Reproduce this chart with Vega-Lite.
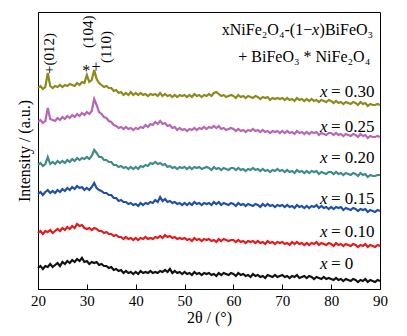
{
"$schema":"https://vega.github.io/schema/vega-lite/v6.json",
"width":342,"height":277,
"autosize":{"type":"none"},
"padding":{"left":38,"top":12,"right":27,"bottom":47},
"background":"white",
"config":{"view":{"stroke":"#000","strokeWidth":1},"font":"Liberation Serif","text":{"font":"Liberation Serif","color":"#000"}},
"datasets":{
"xrd":[
{"s":"0","t":20,"i":21},{"s":"0","t":20.5,"i":23},{"s":"0","t":21,"i":20},{"s":"0","t":21.5,"i":23},{"s":"0","t":22,"i":22},{"s":"0","t":22.5,"i":25},{"s":"0","t":23,"i":22},{"s":"0","t":23.5,"i":24},{"s":"0","t":24,"i":26},{"s":"0","t":24.5,"i":23},
{"s":"0","t":25,"i":27},{"s":"0","t":25.5,"i":25},{"s":"0","t":26,"i":28},{"s":"0","t":26.5,"i":26},{"s":"0","t":27,"i":29},{"s":"0","t":27.5,"i":27},{"s":"0","t":28,"i":30},{"s":"0","t":28.5,"i":28},{"s":"0","t":29,"i":31},{"s":"0","t":29.5,"i":27},
{"s":"0","t":30,"i":28},{"s":"0","t":30.5,"i":25},{"s":"0","t":31,"i":27},{"s":"0","t":31.5,"i":26},{"s":"0","t":32,"i":27},{"s":"0","t":32.5,"i":24},{"s":"0","t":33,"i":25},{"s":"0","t":33.5,"i":23},{"s":"0","t":34,"i":23},{"s":"0","t":34.5,"i":21},
{"s":"0","t":35,"i":22},{"s":"0","t":35.5,"i":19},{"s":"0","t":36,"i":20},{"s":"0","t":36.5,"i":18},{"s":"0","t":37,"i":19},{"s":"0","t":37.5,"i":16},{"s":"0","t":38,"i":18},{"s":"0","t":38.5,"i":16},{"s":"0","t":39,"i":17},{"s":"0","t":39.5,"i":15},
{"s":"0","t":40,"i":17},{"s":"0","t":40.5,"i":15},{"s":"0","t":41,"i":18},{"s":"0","t":41.5,"i":16},{"s":"0","t":42,"i":17},{"s":"0","t":42.5,"i":16},{"s":"0","t":43,"i":18},{"s":"0","t":43.5,"i":16},{"s":"0","t":44,"i":17},{"s":"0","t":44.5,"i":16},
{"s":"0","t":45,"i":18},{"s":"0","t":45.5,"i":17},{"s":"0","t":46,"i":19},{"s":"0","t":46.5,"i":17},{"s":"0","t":47,"i":20},{"s":"0","t":47.5,"i":16},{"s":"0","t":48,"i":18},{"s":"0","t":48.5,"i":16},{"s":"0","t":49,"i":17},{"s":"0","t":49.5,"i":15},
{"s":"0","t":50,"i":17},{"s":"0","t":50.5,"i":15},{"s":"0","t":51,"i":16},{"s":"0","t":51.5,"i":14},{"s":"0","t":52,"i":17},{"s":"0","t":52.5,"i":15},{"s":"0","t":53,"i":16},{"s":"0","t":53.5,"i":14},{"s":"0","t":54,"i":16},{"s":"0","t":54.5,"i":15},
{"s":"0","t":55,"i":16},{"s":"0","t":55.5,"i":14},{"s":"0","t":56,"i":15},{"s":"0","t":56.5,"i":13},{"s":"0","t":57,"i":16},{"s":"0","t":57.5,"i":14},{"s":"0","t":58,"i":16},{"s":"0","t":58.5,"i":15},{"s":"0","t":59,"i":14},{"s":"0","t":59.5,"i":16},
{"s":"0","t":60,"i":15},{"s":"0","t":60.5,"i":13},{"s":"0","t":61,"i":16},{"s":"0","t":61.5,"i":14},{"s":"0","t":62,"i":15},{"s":"0","t":62.5,"i":13},{"s":"0","t":63,"i":14},{"s":"0","t":63.5,"i":12},{"s":"0","t":64,"i":15},{"s":"0","t":64.5,"i":13},
{"s":"0","t":65,"i":14},{"s":"0","t":65.5,"i":12},{"s":"0","t":66,"i":13},{"s":"0","t":66.5,"i":11},{"s":"0","t":67,"i":14},{"s":"0","t":67.5,"i":13},{"s":"0","t":68,"i":12},{"s":"0","t":68.5,"i":14},{"s":"0","t":69,"i":12},{"s":"0","t":69.5,"i":13},
{"s":"0","t":70,"i":14},{"s":"0","t":70.5,"i":12},{"s":"0","t":71,"i":13},{"s":"0","t":71.5,"i":11},{"s":"0","t":72,"i":13},{"s":"0","t":72.5,"i":12},{"s":"0","t":73,"i":14},{"s":"0","t":73.5,"i":11},{"s":"0","t":74,"i":12},{"s":"0","t":74.5,"i":13},
{"s":"0","t":75,"i":11},{"s":"0","t":75.5,"i":13},{"s":"0","t":76,"i":12},{"s":"0","t":76.5,"i":10},{"s":"0","t":77,"i":12},{"s":"0","t":77.5,"i":11},{"s":"0","t":78,"i":10},{"s":"0","t":78.5,"i":12},{"s":"0","t":79,"i":10},{"s":"0","t":79.5,"i":11},
{"s":"0","t":80,"i":10},{"s":"0","t":80.5,"i":9},{"s":"0","t":81,"i":11},{"s":"0","t":81.5,"i":9},{"s":"0","t":82,"i":10},{"s":"0","t":82.5,"i":8},{"s":"0","t":83,"i":10},{"s":"0","t":83.5,"i":9},{"s":"0","t":84,"i":8},{"s":"0","t":84.5,"i":10},
{"s":"0","t":85,"i":9},{"s":"0","t":85.5,"i":7},{"s":"0","t":86,"i":9},{"s":"0","t":86.5,"i":8},{"s":"0","t":87,"i":10},{"s":"0","t":87.5,"i":7},{"s":"0","t":88,"i":9},{"s":"0","t":88.5,"i":8},{"s":"0","t":89,"i":7},{"s":"0","t":89.5,"i":9},
{"s":"0","t":90,"i":8},
{"s":"0.10","t":20,"i":56},{"s":"0.10","t":20.5,"i":58},{"s":"0.10","t":21,"i":55},{"s":"0.10","t":21.5,"i":58},{"s":"0.10","t":22,"i":57},{"s":"0.10","t":22.5,"i":59},{"s":"0.10","t":23,"i":56},{"s":"0.10","t":23.5,"i":58},{"s":"0.10","t":24,"i":60},{"s":"0.10","t":24.5,"i":58},
{"s":"0.10","t":25,"i":61},{"s":"0.10","t":25.5,"i":59},{"s":"0.10","t":26,"i":62},{"s":"0.10","t":26.5,"i":60},{"s":"0.10","t":27,"i":63},{"s":"0.10","t":27.5,"i":61},{"s":"0.10","t":28,"i":65},{"s":"0.10","t":28.5,"i":63},{"s":"0.10","t":29,"i":64},{"s":"0.10","t":29.5,"i":61},
{"s":"0.10","t":30,"i":60},{"s":"0.10","t":30.5,"i":61},{"s":"0.10","t":31,"i":59},{"s":"0.10","t":31.5,"i":61},{"s":"0.10","t":32,"i":60},{"s":"0.10","t":32.5,"i":58},{"s":"0.10","t":33,"i":58},{"s":"0.10","t":33.5,"i":56},{"s":"0.10","t":34,"i":57},{"s":"0.10","t":34.5,"i":55},
{"s":"0.10","t":35,"i":55},{"s":"0.10","t":35.5,"i":53},{"s":"0.10","t":36,"i":54},{"s":"0.10","t":36.5,"i":52},{"s":"0.10","t":37,"i":52},{"s":"0.10","t":37.5,"i":50},{"s":"0.10","t":38,"i":52},{"s":"0.10","t":38.5,"i":50},{"s":"0.10","t":39,"i":51},{"s":"0.10","t":39.5,"i":49},
{"s":"0.10","t":40,"i":51},{"s":"0.10","t":40.5,"i":49},{"s":"0.10","t":41,"i":51},{"s":"0.10","t":41.5,"i":50},{"s":"0.10","t":42,"i":52},{"s":"0.10","t":42.5,"i":50},{"s":"0.10","t":43,"i":51},{"s":"0.10","t":43.5,"i":50},{"s":"0.10","t":44,"i":52},{"s":"0.10","t":44.5,"i":51},
{"s":"0.10","t":45,"i":53},{"s":"0.10","t":45.5,"i":51},{"s":"0.10","t":46,"i":54},{"s":"0.10","t":46.5,"i":52},{"s":"0.10","t":47,"i":53},{"s":"0.10","t":47.5,"i":51},{"s":"0.10","t":48,"i":52},{"s":"0.10","t":48.5,"i":50},{"s":"0.10","t":49,"i":51},{"s":"0.10","t":49.5,"i":50},
{"s":"0.10","t":50,"i":51},{"s":"0.10","t":50.5,"i":49},{"s":"0.10","t":51,"i":50},{"s":"0.10","t":51.5,"i":48},{"s":"0.10","t":52,"i":51},{"s":"0.10","t":52.5,"i":49},{"s":"0.10","t":53,"i":50},{"s":"0.10","t":53.5,"i":48},{"s":"0.10","t":54,"i":50},{"s":"0.10","t":54.5,"i":49},
{"s":"0.10","t":55,"i":50},{"s":"0.10","t":55.5,"i":48},{"s":"0.10","t":56,"i":49},{"s":"0.10","t":56.5,"i":47},{"s":"0.10","t":57,"i":50},{"s":"0.10","t":57.5,"i":48},{"s":"0.10","t":58,"i":50},{"s":"0.10","t":58.5,"i":49},{"s":"0.10","t":59,"i":48},{"s":"0.10","t":59.5,"i":49},
{"s":"0.10","t":60,"i":49},{"s":"0.10","t":60.5,"i":47},{"s":"0.10","t":61,"i":49},{"s":"0.10","t":61.5,"i":47},{"s":"0.10","t":62,"i":48},{"s":"0.10","t":62.5,"i":46},{"s":"0.10","t":63,"i":48},{"s":"0.10","t":63.5,"i":47},{"s":"0.10","t":64,"i":48},{"s":"0.10","t":64.5,"i":46},
{"s":"0.10","t":65,"i":48},{"s":"0.10","t":65.5,"i":46},{"s":"0.10","t":66,"i":47},{"s":"0.10","t":66.5,"i":45},{"s":"0.10","t":67,"i":48},{"s":"0.10","t":67.5,"i":46},{"s":"0.10","t":68,"i":47},{"s":"0.10","t":68.5,"i":45},{"s":"0.10","t":69,"i":47},{"s":"0.10","t":69.5,"i":46},
{"s":"0.10","t":70,"i":47},{"s":"0.10","t":70.5,"i":45},{"s":"0.10","t":71,"i":46},{"s":"0.10","t":71.5,"i":44},{"s":"0.10","t":72,"i":47},{"s":"0.10","t":72.5,"i":45},{"s":"0.10","t":73,"i":47},{"s":"0.10","t":73.5,"i":45},{"s":"0.10","t":74,"i":46},{"s":"0.10","t":74.5,"i":44},
{"s":"0.10","t":75,"i":46},{"s":"0.10","t":75.5,"i":44},{"s":"0.10","t":76,"i":46},{"s":"0.10","t":76.5,"i":45},{"s":"0.10","t":77,"i":47},{"s":"0.10","t":77.5,"i":44},{"s":"0.10","t":78,"i":46},{"s":"0.10","t":78.5,"i":45},{"s":"0.10","t":79,"i":44},{"s":"0.10","t":79.5,"i":46},
{"s":"0.10","t":80,"i":45},{"s":"0.10","t":80.5,"i":43},{"s":"0.10","t":81,"i":46},{"s":"0.10","t":81.5,"i":44},{"s":"0.10","t":82,"i":45},{"s":"0.10","t":82.5,"i":43},{"s":"0.10","t":83,"i":45},{"s":"0.10","t":83.5,"i":44},{"s":"0.10","t":84,"i":43},{"s":"0.10","t":84.5,"i":45},
{"s":"0.10","t":85,"i":44},{"s":"0.10","t":85.5,"i":42},{"s":"0.10","t":86,"i":44},{"s":"0.10","t":86.5,"i":43},{"s":"0.10","t":87,"i":45},{"s":"0.10","t":87.5,"i":42},{"s":"0.10","t":88,"i":44},{"s":"0.10","t":88.5,"i":43},{"s":"0.10","t":89,"i":42},{"s":"0.10","t":89.5,"i":44},
{"s":"0.10","t":90,"i":43},
{"s":"0.15","t":20,"i":95},{"s":"0.15","t":20.5,"i":97},{"s":"0.15","t":21,"i":94},{"s":"0.15","t":21.5,"i":97},{"s":"0.15","t":22,"i":99},{"s":"0.15","t":22.5,"i":96},{"s":"0.15","t":23,"i":98},{"s":"0.15","t":23.5,"i":96},{"s":"0.15","t":24,"i":99},{"s":"0.15","t":24.5,"i":97},
{"s":"0.15","t":25,"i":100},{"s":"0.15","t":25.5,"i":98},{"s":"0.15","t":26,"i":101},{"s":"0.15","t":26.5,"i":99},{"s":"0.15","t":27,"i":102},{"s":"0.15","t":27.5,"i":100},{"s":"0.15","t":28,"i":103},{"s":"0.15","t":28.5,"i":101},{"s":"0.15","t":29,"i":102},{"s":"0.15","t":29.5,"i":99},
{"s":"0.15","t":30,"i":101},{"s":"0.15","t":30.5,"i":99},{"s":"0.15","t":31,"i":102},{"s":"0.15","t":31.5,"i":106},{"s":"0.15","t":32,"i":101},{"s":"0.15","t":32.5,"i":99},{"s":"0.15","t":33,"i":98},{"s":"0.15","t":33.5,"i":96},{"s":"0.15","t":34,"i":96},{"s":"0.15","t":34.5,"i":94},
{"s":"0.15","t":35,"i":94},{"s":"0.15","t":35.5,"i":91},{"s":"0.15","t":36,"i":91},{"s":"0.15","t":36.5,"i":88},{"s":"0.15","t":37,"i":89},{"s":"0.15","t":37.5,"i":87},{"s":"0.15","t":38,"i":87},{"s":"0.15","t":38.5,"i":85},{"s":"0.15","t":39,"i":86},{"s":"0.15","t":39.5,"i":84},
{"s":"0.15","t":40,"i":85},{"s":"0.15","t":40.5,"i":83},{"s":"0.15","t":41,"i":86},{"s":"0.15","t":41.5,"i":84},{"s":"0.15","t":42,"i":86},{"s":"0.15","t":42.5,"i":85},{"s":"0.15","t":43,"i":87},{"s":"0.15","t":43.5,"i":86},{"s":"0.15","t":44,"i":89},{"s":"0.15","t":44.5,"i":87},
{"s":"0.15","t":45,"i":92},{"s":"0.15","t":45.5,"i":88},{"s":"0.15","t":46,"i":90},{"s":"0.15","t":46.5,"i":87},{"s":"0.15","t":47,"i":88},{"s":"0.15","t":47.5,"i":86},{"s":"0.15","t":48,"i":87},{"s":"0.15","t":48.5,"i":85},{"s":"0.15","t":49,"i":86},{"s":"0.15","t":49.5,"i":84},
{"s":"0.15","t":50,"i":86},{"s":"0.15","t":50.5,"i":84},{"s":"0.15","t":51,"i":86},{"s":"0.15","t":51.5,"i":84},{"s":"0.15","t":52,"i":87},{"s":"0.15","t":52.5,"i":85},{"s":"0.15","t":53,"i":86},{"s":"0.15","t":53.5,"i":84},{"s":"0.15","t":54,"i":86},{"s":"0.15","t":54.5,"i":85},
{"s":"0.15","t":55,"i":86},{"s":"0.15","t":55.5,"i":84},{"s":"0.15","t":56,"i":87},{"s":"0.15","t":56.5,"i":85},{"s":"0.15","t":57,"i":87},{"s":"0.15","t":57.5,"i":84},{"s":"0.15","t":58,"i":86},{"s":"0.15","t":58.5,"i":85},{"s":"0.15","t":59,"i":84},{"s":"0.15","t":59.5,"i":86},
{"s":"0.15","t":60,"i":85},{"s":"0.15","t":60.5,"i":83},{"s":"0.15","t":61,"i":86},{"s":"0.15","t":61.5,"i":84},{"s":"0.15","t":62,"i":85},{"s":"0.15","t":62.5,"i":83},{"s":"0.15","t":63,"i":85},{"s":"0.15","t":63.5,"i":84},{"s":"0.15","t":64,"i":83},{"s":"0.15","t":64.5,"i":85},
{"s":"0.15","t":65,"i":84},{"s":"0.15","t":65.5,"i":82},{"s":"0.15","t":66,"i":85},{"s":"0.15","t":66.5,"i":83},{"s":"0.15","t":67,"i":85},{"s":"0.15","t":67.5,"i":83},{"s":"0.15","t":68,"i":84},{"s":"0.15","t":68.5,"i":82},{"s":"0.15","t":69,"i":84},{"s":"0.15","t":69.5,"i":83},
{"s":"0.15","t":70,"i":84},{"s":"0.15","t":70.5,"i":82},{"s":"0.15","t":71,"i":84},{"s":"0.15","t":71.5,"i":82},{"s":"0.15","t":72,"i":83},{"s":"0.15","t":72.5,"i":81},{"s":"0.15","t":73,"i":84},{"s":"0.15","t":73.5,"i":82},{"s":"0.15","t":74,"i":83},{"s":"0.15","t":74.5,"i":81},
{"s":"0.15","t":75,"i":83},{"s":"0.15","t":75.5,"i":81},{"s":"0.15","t":76,"i":83},{"s":"0.15","t":76.5,"i":82},{"s":"0.15","t":77,"i":84},{"s":"0.15","t":77.5,"i":81},{"s":"0.15","t":78,"i":83},{"s":"0.15","t":78.5,"i":81},{"s":"0.15","t":79,"i":82},{"s":"0.15","t":79.5,"i":80},
{"s":"0.15","t":80,"i":82},{"s":"0.15","t":80.5,"i":80},{"s":"0.15","t":81,"i":82},{"s":"0.15","t":81.5,"i":81},{"s":"0.15","t":82,"i":82},{"s":"0.15","t":82.5,"i":79},{"s":"0.15","t":83,"i":81},{"s":"0.15","t":83.5,"i":80},{"s":"0.15","t":84,"i":79},{"s":"0.15","t":84.5,"i":81},
{"s":"0.15","t":85,"i":80},{"s":"0.15","t":85.5,"i":78},{"s":"0.15","t":86,"i":80},{"s":"0.15","t":86.5,"i":79},{"s":"0.15","t":87,"i":80},{"s":"0.15","t":87.5,"i":77},{"s":"0.15","t":88,"i":79},{"s":"0.15","t":88.5,"i":78},{"s":"0.15","t":89,"i":77},{"s":"0.15","t":89.5,"i":79},
{"s":"0.15","t":90,"i":78},
{"s":"0.20","t":20,"i":124},{"s":"0.20","t":20.5,"i":126},{"s":"0.20","t":21,"i":123},{"s":"0.20","t":21.5,"i":125},{"s":"0.20","t":22,"i":132},{"s":"0.20","t":22.5,"i":125},{"s":"0.20","t":23,"i":127},{"s":"0.20","t":23.5,"i":125},{"s":"0.20","t":24,"i":128},{"s":"0.20","t":24.5,"i":126},
{"s":"0.20","t":25,"i":128},{"s":"0.20","t":25.5,"i":126},{"s":"0.20","t":26,"i":129},{"s":"0.20","t":26.5,"i":127},{"s":"0.20","t":27,"i":130},{"s":"0.20","t":27.5,"i":128},{"s":"0.20","t":28,"i":131},{"s":"0.20","t":28.5,"i":129},{"s":"0.20","t":29,"i":131},{"s":"0.20","t":29.5,"i":130},
{"s":"0.20","t":30,"i":132},{"s":"0.20","t":30.5,"i":130},{"s":"0.20","t":31,"i":133},{"s":"0.20","t":31.5,"i":139},{"s":"0.20","t":32,"i":136},{"s":"0.20","t":32.5,"i":132},{"s":"0.20","t":33,"i":132},{"s":"0.20","t":33.5,"i":129},{"s":"0.20","t":34,"i":129},{"s":"0.20","t":34.5,"i":127},
{"s":"0.20","t":35,"i":127},{"s":"0.20","t":35.5,"i":124},{"s":"0.20","t":36,"i":124},{"s":"0.20","t":36.5,"i":122},{"s":"0.20","t":37,"i":123},{"s":"0.20","t":37.5,"i":121},{"s":"0.20","t":38,"i":122},{"s":"0.20","t":38.5,"i":120},{"s":"0.20","t":39,"i":122},{"s":"0.20","t":39.5,"i":120},
{"s":"0.20","t":40,"i":122},{"s":"0.20","t":40.5,"i":120},{"s":"0.20","t":41,"i":123},{"s":"0.20","t":41.5,"i":122},{"s":"0.20","t":42,"i":124},{"s":"0.20","t":42.5,"i":123},{"s":"0.20","t":43,"i":126},{"s":"0.20","t":43.5,"i":125},{"s":"0.20","t":44,"i":127},{"s":"0.20","t":44.5,"i":125},
{"s":"0.20","t":45,"i":126},{"s":"0.20","t":45.5,"i":124},{"s":"0.20","t":46,"i":125},{"s":"0.20","t":46.5,"i":122},{"s":"0.20","t":47,"i":123},{"s":"0.20","t":47.5,"i":121},{"s":"0.20","t":48,"i":122},{"s":"0.20","t":48.5,"i":120},{"s":"0.20","t":49,"i":122},{"s":"0.20","t":49.5,"i":121},
{"s":"0.20","t":50,"i":122},{"s":"0.20","t":50.5,"i":120},{"s":"0.20","t":51,"i":122},{"s":"0.20","t":51.5,"i":120},{"s":"0.20","t":52,"i":122},{"s":"0.20","t":52.5,"i":121},{"s":"0.20","t":53,"i":122},{"s":"0.20","t":53.5,"i":120},{"s":"0.20","t":54,"i":121},{"s":"0.20","t":54.5,"i":122},
{"s":"0.20","t":55,"i":121},{"s":"0.20","t":55.5,"i":119},{"s":"0.20","t":56,"i":122},{"s":"0.20","t":56.5,"i":120},{"s":"0.20","t":57,"i":121},{"s":"0.20","t":57.5,"i":119},{"s":"0.20","t":58,"i":121},{"s":"0.20","t":58.5,"i":120},{"s":"0.20","t":59,"i":119},{"s":"0.20","t":59.5,"i":121},
{"s":"0.20","t":60,"i":121},{"s":"0.20","t":60.5,"i":119},{"s":"0.20","t":61,"i":121},{"s":"0.20","t":61.5,"i":119},{"s":"0.20","t":62,"i":120},{"s":"0.20","t":62.5,"i":118},{"s":"0.20","t":63,"i":120},{"s":"0.20","t":63.5,"i":119},{"s":"0.20","t":64,"i":121},{"s":"0.20","t":64.5,"i":119},
{"s":"0.20","t":65,"i":120},{"s":"0.20","t":65.5,"i":118},{"s":"0.20","t":66,"i":120},{"s":"0.20","t":66.5,"i":118},{"s":"0.20","t":67,"i":119},{"s":"0.20","t":67.5,"i":117},{"s":"0.20","t":68,"i":119},{"s":"0.20","t":68.5,"i":118},{"s":"0.20","t":69,"i":120},{"s":"0.20","t":69.5,"i":118},
{"s":"0.20","t":70,"i":119},{"s":"0.20","t":70.5,"i":117},{"s":"0.20","t":71,"i":119},{"s":"0.20","t":71.5,"i":117},{"s":"0.20","t":72,"i":118},{"s":"0.20","t":72.5,"i":116},{"s":"0.20","t":73,"i":119},{"s":"0.20","t":73.5,"i":117},{"s":"0.20","t":74,"i":118},{"s":"0.20","t":74.5,"i":116},
{"s":"0.20","t":75,"i":118},{"s":"0.20","t":75.5,"i":116},{"s":"0.20","t":76,"i":118},{"s":"0.20","t":76.5,"i":117},{"s":"0.20","t":77,"i":118},{"s":"0.20","t":77.5,"i":115},{"s":"0.20","t":78,"i":117},{"s":"0.20","t":78.5,"i":116},{"s":"0.20","t":79,"i":115},{"s":"0.20","t":79.5,"i":117},
{"s":"0.20","t":80,"i":117},{"s":"0.20","t":80.5,"i":115},{"s":"0.20","t":81,"i":117},{"s":"0.20","t":81.5,"i":115},{"s":"0.20","t":82,"i":116},{"s":"0.20","t":82.5,"i":114},{"s":"0.20","t":83,"i":116},{"s":"0.20","t":83.5,"i":115},{"s":"0.20","t":84,"i":114},{"s":"0.20","t":84.5,"i":116},
{"s":"0.20","t":85,"i":115},{"s":"0.20","t":85.5,"i":113},{"s":"0.20","t":86,"i":116},{"s":"0.20","t":86.5,"i":114},{"s":"0.20","t":87,"i":115},{"s":"0.20","t":87.5,"i":112},{"s":"0.20","t":88,"i":114},{"s":"0.20","t":88.5,"i":113},{"s":"0.20","t":89,"i":113},{"s":"0.20","t":89.5,"i":114},
{"s":"0.20","t":90,"i":114},
{"s":"0.25","t":20,"i":167},{"s":"0.25","t":20.5,"i":169},{"s":"0.25","t":21,"i":166},{"s":"0.25","t":21.5,"i":168},{"s":"0.25","t":22,"i":181},{"s":"0.25","t":22.5,"i":170},{"s":"0.25","t":23,"i":169},{"s":"0.25","t":23.5,"i":168},{"s":"0.25","t":24,"i":171},{"s":"0.25","t":24.5,"i":169},
{"s":"0.25","t":25,"i":172},{"s":"0.25","t":25.5,"i":170},{"s":"0.25","t":26,"i":173},{"s":"0.25","t":26.5,"i":171},{"s":"0.25","t":27,"i":174},{"s":"0.25","t":27.5,"i":172},{"s":"0.25","t":28,"i":175},{"s":"0.25","t":28.5,"i":173},{"s":"0.25","t":29,"i":176},{"s":"0.25","t":29.5,"i":174},
{"s":"0.25","t":30,"i":177},{"s":"0.25","t":30.5,"i":175},{"s":"0.25","t":31,"i":178},{"s":"0.25","t":31.5,"i":190},{"s":"0.25","t":32,"i":184},{"s":"0.25","t":32.5,"i":177},{"s":"0.25","t":33,"i":175},{"s":"0.25","t":33.5,"i":172},{"s":"0.25","t":34,"i":171},{"s":"0.25","t":34.5,"i":168},
{"s":"0.25","t":35,"i":167},{"s":"0.25","t":35.5,"i":164},{"s":"0.25","t":36,"i":163},{"s":"0.25","t":36.5,"i":161},{"s":"0.25","t":37,"i":162},{"s":"0.25","t":37.5,"i":160},{"s":"0.25","t":38,"i":162},{"s":"0.25","t":38.5,"i":160},{"s":"0.25","t":39,"i":161},{"s":"0.25","t":39.5,"i":159},
{"s":"0.25","t":40,"i":161},{"s":"0.25","t":40.5,"i":160},{"s":"0.25","t":41,"i":162},{"s":"0.25","t":41.5,"i":161},{"s":"0.25","t":42,"i":164},{"s":"0.25","t":42.5,"i":162},{"s":"0.25","t":43,"i":165},{"s":"0.25","t":43.5,"i":164},{"s":"0.25","t":44,"i":167},{"s":"0.25","t":44.5,"i":165},
{"s":"0.25","t":45,"i":168},{"s":"0.25","t":45.5,"i":165},{"s":"0.25","t":46,"i":166},{"s":"0.25","t":46.5,"i":163},{"s":"0.25","t":47,"i":164},{"s":"0.25","t":47.5,"i":161},{"s":"0.25","t":48,"i":162},{"s":"0.25","t":48.5,"i":159},{"s":"0.25","t":49,"i":161},{"s":"0.25","t":49.5,"i":159},
{"s":"0.25","t":50,"i":160},{"s":"0.25","t":50.5,"i":158},{"s":"0.25","t":51,"i":160},{"s":"0.25","t":51.5,"i":159},{"s":"0.25","t":52,"i":161},{"s":"0.25","t":52.5,"i":159},{"s":"0.25","t":53,"i":161},{"s":"0.25","t":53.5,"i":160},{"s":"0.25","t":54,"i":162},{"s":"0.25","t":54.5,"i":160},
{"s":"0.25","t":55,"i":162},{"s":"0.25","t":55.5,"i":161},{"s":"0.25","t":56,"i":163},{"s":"0.25","t":56.5,"i":161},{"s":"0.25","t":57,"i":163},{"s":"0.25","t":57.5,"i":160},{"s":"0.25","t":58,"i":161},{"s":"0.25","t":58.5,"i":159},{"s":"0.25","t":59,"i":160},{"s":"0.25","t":59.5,"i":161},
{"s":"0.25","t":60,"i":160},{"s":"0.25","t":60.5,"i":158},{"s":"0.25","t":61,"i":160},{"s":"0.25","t":61.5,"i":158},{"s":"0.25","t":62,"i":159},{"s":"0.25","t":62.5,"i":157},{"s":"0.25","t":63,"i":159},{"s":"0.25","t":63.5,"i":158},{"s":"0.25","t":64,"i":160},{"s":"0.25","t":64.5,"i":158},
{"s":"0.25","t":65,"i":159},{"s":"0.25","t":65.5,"i":157},{"s":"0.25","t":66,"i":159},{"s":"0.25","t":66.5,"i":157},{"s":"0.25","t":67,"i":158},{"s":"0.25","t":67.5,"i":156},{"s":"0.25","t":68,"i":158},{"s":"0.25","t":68.5,"i":157},{"s":"0.25","t":69,"i":158},{"s":"0.25","t":69.5,"i":156},
{"s":"0.25","t":70,"i":158},{"s":"0.25","t":70.5,"i":156},{"s":"0.25","t":71,"i":158},{"s":"0.25","t":71.5,"i":156},{"s":"0.25","t":72,"i":157},{"s":"0.25","t":72.5,"i":155},{"s":"0.25","t":73,"i":158},{"s":"0.25","t":73.5,"i":156},{"s":"0.25","t":74,"i":157},{"s":"0.25","t":74.5,"i":155},
{"s":"0.25","t":75,"i":157},{"s":"0.25","t":75.5,"i":155},{"s":"0.25","t":76,"i":157},{"s":"0.25","t":76.5,"i":156},{"s":"0.25","t":77,"i":157},{"s":"0.25","t":77.5,"i":154},{"s":"0.25","t":78,"i":156},{"s":"0.25","t":78.5,"i":155},{"s":"0.25","t":79,"i":154},{"s":"0.25","t":79.5,"i":156},
{"s":"0.25","t":80,"i":156},{"s":"0.25","t":80.5,"i":154},{"s":"0.25","t":81,"i":156},{"s":"0.25","t":81.5,"i":154},{"s":"0.25","t":82,"i":155},{"s":"0.25","t":82.5,"i":153},{"s":"0.25","t":83,"i":155},{"s":"0.25","t":83.5,"i":154},{"s":"0.25","t":84,"i":153},{"s":"0.25","t":84.5,"i":155},
{"s":"0.25","t":85,"i":154},{"s":"0.25","t":85.5,"i":152},{"s":"0.25","t":86,"i":155},{"s":"0.25","t":86.5,"i":153},{"s":"0.25","t":87,"i":154},{"s":"0.25","t":87.5,"i":151},{"s":"0.25","t":88,"i":153},{"s":"0.25","t":88.5,"i":152},{"s":"0.25","t":89,"i":152},{"s":"0.25","t":89.5,"i":153},
{"s":"0.25","t":90,"i":152},
{"s":"0.30","t":20,"i":201},{"s":"0.30","t":20.5,"i":203},{"s":"0.30","t":21,"i":200},{"s":"0.30","t":21.5,"i":202},{"s":"0.30","t":22,"i":216},{"s":"0.30","t":22.5,"i":203},{"s":"0.30","t":23,"i":201},{"s":"0.30","t":23.5,"i":203},{"s":"0.30","t":24,"i":202},{"s":"0.30","t":24.5,"i":204},
{"s":"0.30","t":25,"i":202},{"s":"0.30","t":25.5,"i":204},{"s":"0.30","t":26,"i":203},{"s":"0.30","t":26.5,"i":205},{"s":"0.30","t":27,"i":204},{"s":"0.30","t":27.5,"i":203},{"s":"0.30","t":28,"i":206},{"s":"0.30","t":28.5,"i":204},{"s":"0.30","t":29,"i":207},{"s":"0.30","t":29.5,"i":206},
{"s":"0.30","t":30,"i":214},{"s":"0.30","t":30.5,"i":207},{"s":"0.30","t":31,"i":209},{"s":"0.30","t":31.5,"i":219},{"s":"0.30","t":32,"i":210},{"s":"0.30","t":32.5,"i":206},{"s":"0.30","t":33,"i":204},{"s":"0.30","t":33.5,"i":202},{"s":"0.30","t":34,"i":203},{"s":"0.30","t":34.5,"i":201},
{"s":"0.30","t":35,"i":201},{"s":"0.30","t":35.5,"i":198},{"s":"0.30","t":36,"i":199},{"s":"0.30","t":36.5,"i":196},{"s":"0.30","t":37,"i":197},{"s":"0.30","t":37.5,"i":194},{"s":"0.30","t":38,"i":196},{"s":"0.30","t":38.5,"i":194},{"s":"0.30","t":39,"i":197},{"s":"0.30","t":39.5,"i":194},
{"s":"0.30","t":40,"i":196},{"s":"0.30","t":40.5,"i":194},{"s":"0.30","t":41,"i":196},{"s":"0.30","t":41.5,"i":194},{"s":"0.30","t":42,"i":195},{"s":"0.30","t":42.5,"i":193},{"s":"0.30","t":43,"i":195},{"s":"0.30","t":43.5,"i":194},{"s":"0.30","t":44,"i":195},{"s":"0.30","t":44.5,"i":193},
{"s":"0.30","t":45,"i":196},{"s":"0.30","t":45.5,"i":193},{"s":"0.30","t":46,"i":195},{"s":"0.30","t":46.5,"i":193},{"s":"0.30","t":47,"i":194},{"s":"0.30","t":47.5,"i":192},{"s":"0.30","t":48,"i":194},{"s":"0.30","t":48.5,"i":192},{"s":"0.30","t":49,"i":194},{"s":"0.30","t":49.5,"i":193},
{"s":"0.30","t":50,"i":194},{"s":"0.30","t":50.5,"i":192},{"s":"0.30","t":51,"i":194},{"s":"0.30","t":51.5,"i":192},{"s":"0.30","t":52,"i":195},{"s":"0.30","t":52.5,"i":193},{"s":"0.30","t":53,"i":194},{"s":"0.30","t":53.5,"i":192},{"s":"0.30","t":54,"i":194},{"s":"0.30","t":54.5,"i":193},
{"s":"0.30","t":55,"i":195},{"s":"0.30","t":55.5,"i":193},{"s":"0.30","t":56,"i":196},{"s":"0.30","t":56.5,"i":197},{"s":"0.30","t":57,"i":195},{"s":"0.30","t":57.5,"i":193},{"s":"0.30","t":58,"i":194},{"s":"0.30","t":58.5,"i":192},{"s":"0.30","t":59,"i":193},{"s":"0.30","t":59.5,"i":194},
{"s":"0.30","t":60,"i":193},{"s":"0.30","t":60.5,"i":191},{"s":"0.30","t":61,"i":194},{"s":"0.30","t":61.5,"i":192},{"s":"0.30","t":62,"i":193},{"s":"0.30","t":62.5,"i":191},{"s":"0.30","t":63,"i":193},{"s":"0.30","t":63.5,"i":192},{"s":"0.30","t":64,"i":191},{"s":"0.30","t":64.5,"i":193},
{"s":"0.30","t":65,"i":192},{"s":"0.30","t":65.5,"i":190},{"s":"0.30","t":66,"i":192},{"s":"0.30","t":66.5,"i":191},{"s":"0.30","t":67,"i":192},{"s":"0.30","t":67.5,"i":189},{"s":"0.30","t":68,"i":191},{"s":"0.30","t":68.5,"i":190},{"s":"0.30","t":69,"i":191},{"s":"0.30","t":69.5,"i":190},
{"s":"0.30","t":70,"i":191},{"s":"0.30","t":70.5,"i":189},{"s":"0.30","t":71,"i":191},{"s":"0.30","t":71.5,"i":189},{"s":"0.30","t":72,"i":190},{"s":"0.30","t":72.5,"i":188},{"s":"0.30","t":73,"i":191},{"s":"0.30","t":73.5,"i":189},{"s":"0.30","t":74,"i":190},{"s":"0.30","t":74.5,"i":188},
{"s":"0.30","t":75,"i":190},{"s":"0.30","t":75.5,"i":188},{"s":"0.30","t":76,"i":190},{"s":"0.30","t":76.5,"i":188},{"s":"0.30","t":77,"i":189},{"s":"0.30","t":77.5,"i":187},{"s":"0.30","t":78,"i":189},{"s":"0.30","t":78.5,"i":188},{"s":"0.30","t":79,"i":187},{"s":"0.30","t":79.5,"i":189},
{"s":"0.30","t":80,"i":188},{"s":"0.30","t":80.5,"i":186},{"s":"0.30","t":81,"i":188},{"s":"0.30","t":81.5,"i":186},{"s":"0.30","t":82,"i":187},{"s":"0.30","t":82.5,"i":185},{"s":"0.30","t":83,"i":187},{"s":"0.30","t":83.5,"i":186},{"s":"0.30","t":84,"i":185},{"s":"0.30","t":84.5,"i":187},
{"s":"0.30","t":85,"i":186},{"s":"0.30","t":85.5,"i":184},{"s":"0.30","t":86,"i":187},{"s":"0.30","t":86.5,"i":185},{"s":"0.30","t":87,"i":186},{"s":"0.30","t":87.5,"i":183},{"s":"0.30","t":88,"i":185},{"s":"0.30","t":88.5,"i":184},{"s":"0.30","t":89,"i":184},{"s":"0.30","t":89.5,"i":185},
{"s":"0.30","t":90,"i":184}
],
"lab":[
{"t":77.7,"i":197,"txt":"= 0.30"},
{"t":77.7,"i":162,"txt":"= 0.25"},
{"t":77.7,"i":131,"txt":"= 0.20"},
{"t":77.7,"i":90,"txt":"= 0.15"},
{"t":77.7,"i":57,"txt":"= 0.10"},
{"t":77.7,"i":25,"txt":"= 0"}
],
"ttl1":[{"t":88.6,"i":259,"a":"xNiFe₂O₄-(1−","b":"x","c":")BiFeO₃"}],
"ttl2":[{"t":88.0,"i":232,"txt":"+ BiFeO₃  * NiFe₂O₄"}],
"pk":[
{"t":22.25,"i":215,"txt":"+(012)"},
{"t":30.2,"i":241,"txt":"(104)"},
{"t":33.9,"i":226,"txt":"(110)"}
],
"mk":[
{"t":29.9,"i":218,"txt":"*"},
{"t":31.9,"i":222,"txt":"+"}
]
},
"layer":[
{"data":{"name":"xrd"},
 "mark":{"type":"line","strokeWidth":2.2},
 "encoding":{
  "x":{"field":"t","type":"quantitative","scale":{"domain":[20,90],"nice":false,"zero":false},
   "axis":{"values":[20,25,30,35,40,45,50,55,60,65,70,75,80,85,90],"labelExpr":"datum.value % 10 === 0 ? datum.label : ''","tickSize":-5,"labelPadding":9,"labelFontSize":15,"labelFont":"Liberation Serif","labelColor":"#000","labelFlush":false,"labelOverlap":false,"domainColor":"#000","tickColor":"#000","grid":false,"title":"2θ / (°)","titleFont":"Liberation Serif","titleFontSize":16,"titleFontWeight":"normal","titleColor":"#000","titlePadding":1}},
  "y":{"field":"i","type":"quantitative","scale":{"domain":[0,277],"nice":false,"zero":false},
   "axis":{"labels":false,"ticks":false,"grid":false,"domainColor":"#000","title":"Intensity / (a.u.)","titleFont":"Liberation Serif","titleFontSize":16,"titleFontWeight":"normal","titleColor":"#000","titlePadding":6}},
  "color":{"field":"s","type":"nominal","legend":null,"scale":{"domain":["0","0.10","0.15","0.20","0.25","0.30"],"range":["#111111","#e31a1c","#1f4fa6","#3e8b88","#b566b5","#8b8a1c"]}}
 }},
{"data":{"name":"lab"},"mark":{"type":"text","text":"x","font":"Liberation Serif","fontStyle":"italic","align":"left","baseline":"middle","fontSize":17},
 "encoding":{"x":{"field":"t","type":"quantitative"},"y":{"field":"i","type":"quantitative"}}},
{"data":{"name":"lab"},"mark":{"type":"text","font":"Liberation Serif","align":"left","baseline":"middle","fontSize":17,"dx":11},
 "encoding":{"x":{"field":"t","type":"quantitative"},"y":{"field":"i","type":"quantitative"},"text":{"field":"txt"}}},
{"data":{"name":"ttl1"},"mark":{"type":"text","font":"Liberation Serif","align":"right","baseline":"middle","fontSize":16},
 "encoding":{"x":{"field":"t","type":"quantitative"},"y":{"field":"i","type":"quantitative"},"text":{"field":"c"}}},
{"data":{"name":"ttl1"},"mark":{"type":"text","font":"Liberation Serif","align":"right","baseline":"middle","fontSize":16,"fontStyle":"italic","dx":-54},
 "encoding":{"x":{"field":"t","type":"quantitative"},"y":{"field":"i","type":"quantitative"},"text":{"field":"b"}}},
{"data":{"name":"ttl1"},"mark":{"type":"text","font":"Liberation Serif","align":"right","baseline":"middle","fontSize":16,"dx":-61},
 "encoding":{"x":{"field":"t","type":"quantitative"},"y":{"field":"i","type":"quantitative"},"text":{"field":"a"}}},
{"data":{"name":"ttl2"},"mark":{"type":"text","font":"Liberation Serif","align":"right","baseline":"middle","fontSize":16},
 "encoding":{"x":{"field":"t","type":"quantitative"},"y":{"field":"i","type":"quantitative"},"text":{"field":"txt"}}},
{"data":{"name":"pk"},"mark":{"type":"text","font":"Liberation Serif","align":"left","baseline":"middle","fontSize":15,"angle":270},
 "encoding":{"x":{"field":"t","type":"quantitative"},"y":{"field":"i","type":"quantitative"},"text":{"field":"txt"}}},
{"data":{"name":"mk"},"mark":{"type":"text","font":"Liberation Serif","align":"center","baseline":"middle","fontSize":16},
 "encoding":{"x":{"field":"t","type":"quantitative"},"y":{"field":"i","type":"quantitative"},"text":{"field":"txt"}}}
]
}
